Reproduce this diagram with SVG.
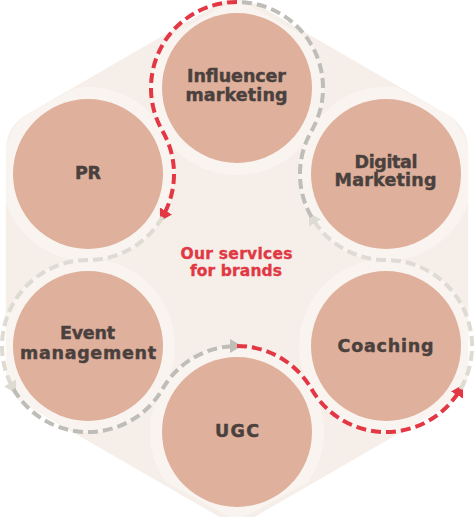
<svg xmlns="http://www.w3.org/2000/svg" width="474" height="517" viewBox="0 0 474 517">
  <defs>
    <style>
      .band { fill: #faf4f1; }
      .node { fill: #dfb09b; }
      .lbl { font-family: "DejaVu Sans", "Liberation Sans", sans-serif; font-weight: bold; font-size: 17.5px; fill: #4a413e; stroke: #4a413e; stroke-width: 0.45; text-anchor: middle; }
      .title { font-family: "DejaVu Sans", "Liberation Sans", sans-serif; font-weight: bold; font-size: 15.5px; fill: #e13844; stroke: #e13844; stroke-width: 0.35; text-anchor: middle; }
      .dash { fill: none; stroke-width: 4; stroke-dasharray: 10 5; }
      .red { stroke: #e33744; }
      .dark { stroke: #bebdb8; }
      .light { stroke: #dedbd3; }
    </style>
    <clipPath id="hexClip">
      <path d="M237,-1 L468,126 L468,394 L237,521 L6,394 L6,126 Z"/>
    </clipPath>
    <marker id="arrRed" viewBox="0 0 12 14" markerWidth="12" markerHeight="14" refX="7" refY="7" orient="auto" markerUnits="userSpaceOnUse">
      <path d="M0,0 L12,7 L0,14 z" fill="#e33744"/>
    </marker>
    <marker id="arrDark" viewBox="0 0 12 14" markerWidth="12" markerHeight="14" refX="7" refY="7" orient="auto" markerUnits="userSpaceOnUse">
      <path d="M0,0 L12,7 L0,14 z" fill="#bebdb8"/>
    </marker>
    <marker id="arrLight" viewBox="0 0 12 14" markerWidth="12" markerHeight="14" refX="7" refY="7" orient="auto" markerUnits="userSpaceOnUse">
      <path d="M0,0 L12,7 L0,14 z" fill="#dedbd3"/>
    </marker>
  </defs>

  <g id="background">
    <polygon points="237,39.2 428.2,149.6 428.2,370.4 237,480.8 45.8,370.4 45.8,149.6" fill="#f6eee9" stroke="#f6eee9" stroke-width="80" stroke-linejoin="round"/>
    <g clip-path="url(#hexClip)">
      <circle class="band" cx="237" cy="88" r="87"/>
      <circle class="band" cx="88" cy="174" r="87"/>
      <circle class="band" cx="386" cy="174" r="87"/>
      <circle class="band" cx="88" cy="346" r="87"/>
      <circle class="band" cx="386" cy="346" r="87"/>
      <circle class="band" cx="237" cy="432" r="87"/>
    </g>
  </g>

  <g id="connectors">
    <path class="dash red" d="M237,2 A86,86 0 0 0 162.5,131 A86,86 0 0 1 162.5,217" marker-end="url(#arrRed)"/>
    <path class="dash light" d="M162.5,217 A86,86 0 0 1 88,260 A86,86 0 0 0 13.5,389" marker-end="url(#arrLight)"/>
    <path class="dash dark" d="M13.5,389 A86,86 0 0 0 162.5,389 A86,86 0 0 1 237,346" marker-end="url(#arrDark)"/>
    <path class="dash red" d="M237,346 A86,86 0 0 1 311.5,389 A86,86 0 0 0 460.5,389" marker-end="url(#arrRed)"/>
    <path class="dash light" d="M460.5,389 A86,86 0 0 0 386,260 A86,86 0 0 1 311.5,217" marker-end="url(#arrLight)"/>
    <path class="dash dark" d="M311.5,217 A86,86 0 0 1 311.5,131 A86,86 0 0 0 237,2"/>
  </g>

  <g id="node-influencer">
    <circle class="node" cx="237" cy="88" r="75"/>
    <text class="lbl" x="236.5" y="82" textLength="99">Influencer</text>
    <text class="lbl" x="236.5" y="100.5" textLength="102">marketing</text>
  </g>
  <g id="node-pr">
    <circle class="node" cx="88" cy="174" r="75"/>
    <text class="lbl" x="88" y="179" textLength="26">PR</text>
  </g>
  <g id="node-digital">
    <circle class="node" cx="386" cy="174" r="75"/>
    <text class="lbl" x="386" y="167.5" textLength="63">Digital</text>
    <text class="lbl" x="385.5" y="186" textLength="102">Marketing</text>
  </g>
  <g id="node-event">
    <circle class="node" cx="88" cy="346" r="75"/>
    <text class="lbl" x="87.5" y="338.5" textLength="55">Event</text>
    <text class="lbl" x="88" y="358.5" textLength="136">management</text>
  </g>
  <g id="node-coaching">
    <circle class="node" cx="386" cy="346" r="75"/>
    <text class="lbl" x="385.5" y="352" textLength="96">Coaching</text>
  </g>
  <g id="node-ugc">
    <circle class="node" cx="237" cy="432" r="75"/>
    <text class="lbl" x="237" y="437" textLength="44">UGC</text>
  </g>
  <g id="center-title">
    <text class="title" x="236.5" y="259" textLength="112">Our services</text>
    <text class="title" x="236" y="276" textLength="92">for brands</text>
  </g>
</svg>
